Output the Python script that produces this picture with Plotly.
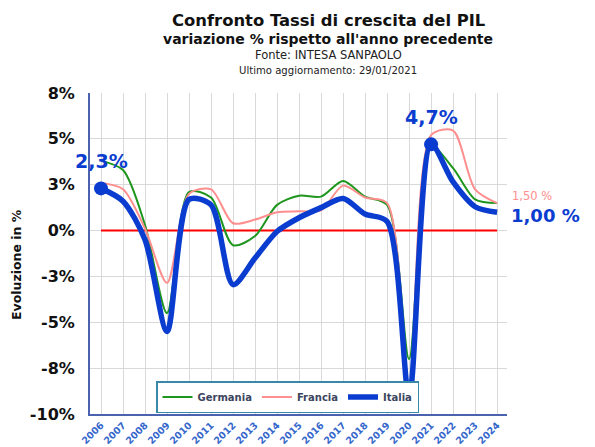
import plotly.graph_objects as go

years = list(range(2006, 2025))
year_labels = [str(y) for y in years]

germania = [3.8, 3.3, 0.3, -4.5, 2.1, 1.8, -0.8, -0.3, 1.4, 1.9, 1.85, 2.7, 1.85, 1.4, -7.0, 4.6, 3.4, 1.7, 1.5]
francia = [2.6, 2.25, 0.1, -2.85, 2.0, 2.25, 0.4, 0.6, 1.0, 1.05, 1.1, 2.45, 1.8, 1.5, -8.5, 5.2, 5.45, 2.25, 1.5]
italia = [2.3, 1.6, -0.5, -5.5, 1.7, 1.4, -2.95, -1.5, -0.05, 0.7, 1.25, 1.75, 0.9, 0.5, -9.0, 4.7, 2.65, 1.3, 1.0]

ytick_vals = [-10, -7.5, -5, -2.5, 0, 2.5, 5, 7.5]
ytick_text = ["-10%", "-8%", "-5%", "-3%", "0%", "3%", "5%", "8%"]

highlight_years = [2006, 2021]
highlight_labels = ["2,3%", "4,7%"]
end_labels = {"Francia": "1,50 %", "Italia": "1,00 %"}

FONT = "DejaVu Sans"
BLUE = "#0a3ccf"
GREEN = "#1e961e"
PINK = "#ff8e8e"

# the page body adds an 8px margin; the figure is sized so the page matches 595x447
BODY = 8
W, H = 595 - BODY, 447 - BODY
PL, PR, PT, PB = 90, 507, 93, 414  # plot area in page pixels

fig = go.Figure()

# zero line
fig.add_trace(go.Scatter(x=[years[0], years[-1]], y=[0, 0], mode="lines",
                         line=dict(color="#ff0000", width=2), showlegend=False, hoverinfo="skip"))

fig.add_trace(go.Scatter(x=years, y=germania, name="Germania", mode="lines",
                         line=dict(color=GREEN, width=2, shape="spline", smoothing=0.8)))
fig.add_trace(go.Scatter(x=years, y=francia, name="Francia", mode="lines",
                         line=dict(color=PINK, width=2, shape="spline", smoothing=0.8)))
fig.add_trace(go.Scatter(x=years, y=italia, name="Italia", mode="lines",
                         line=dict(color=BLUE, width=5.5, shape="spline", smoothing=0.8)))

hy = [italia[years.index(y)] for y in highlight_years]
fig.add_trace(go.Scatter(x=highlight_years, y=hy, mode="markers",
                         marker=dict(color=BLUE, size=14), showlegend=False))

annotations = []
for x, yv, t in zip(highlight_years, hy, highlight_labels):
    annotations.append(dict(x=x, y=yv, text=t, showarrow=False, yshift=27,
                            font=dict(family=FONT, size=19, color=BLUE, weight="bold")))

annotations.append(dict(x=years[-1], y=francia[-1], text=end_labels["Francia"], showarrow=False,
                        xanchor="left", xshift=13, yshift=7,
                        font=dict(family=FONT, size=11.5, color=PINK)))
annotations.append(dict(x=years[-1], y=italia[-1], text=end_labels["Italia"], showarrow=False,
                        xanchor="left", xshift=12, yshift=-3,
                        font=dict(family=FONT, size=18, color=BLUE, weight="bold")))


def px_x(px):
    return (px - PL) / float(PR - PL)


def px_y(py):
    return (PB - py) / float(PB - PT)


titles = [
    ("Confronto Tassi di crescita del PIL", 21, 16.4, "bold", "#111111"),
    ("variazione % rispetto all'anno precedente", 39, 14, "bold", "#111111"),
    ("Fonte: INTESA SANPAOLO", 55, 11.5, "normal", "#222222"),
    ("Ultimo aggiornamento: 29/01/2021", 70, 10.1, "normal", "#222222"),
]
for t, y, s, w, c in titles:
    annotations.append(dict(xref="paper", yref="paper", x=px_x(328), y=px_y(y), text=t,
                            showarrow=False, xanchor="center", yanchor="middle",
                            font=dict(family=FONT, size=s, color=c, weight=w)))

annotations.append(dict(xref="paper", yref="paper", x=px_x(16), y=px_y(265),
                        text="Evoluzione in %", textangle=-90, showarrow=False,
                        xanchor="center", yanchor="middle",
                        font=dict(family=FONT, size=12.5, color="#111111", weight="bold")))

fig.update_layout(
    width=W, height=H,
    margin=dict(l=PL - BODY, r=595 - PR, t=PT - BODY, b=447 - PB),
    paper_bgcolor="white", plot_bgcolor="white",
    font=dict(family=FONT),
    annotations=annotations,
    legend=dict(orientation="h", x=px_x(156), y=px_y(381), xanchor="left", yanchor="top",
                bgcolor="white", bordercolor="#3a88a8", borderwidth=1.5,
                font=dict(family=FONT, size=10, color="#3c4560", weight="bold"),
                itemwidth=30, tracegroupgap=0),
    xaxis=dict(range=[2005.5, 2024.45], tickvals=years, ticktext=year_labels, tickangle=-45,
               tickfont=dict(family=FONT, size=9.5, color="#3366cc", weight="bold"),
               showgrid=True, gridcolor="#d9d9d9", gridwidth=1,
               showline=True, linecolor="#4a62b0", linewidth=2, automargin=False,
               ticks="", zeroline=False),
    yaxis=dict(range=[-10, 7.5], tickvals=ytick_vals, ticktext=ytick_text,
               tickfont=dict(family=FONT, size=16, color="#111111", weight="bold"),
               showgrid=True, gridcolor="#d9d9d9", gridwidth=1,
               showline=True, linecolor="#4a62b0", linewidth=2, automargin=False,
               ticks="", ticklabelstandoff=10, zeroline=False),
)

fig.write_html("out.html")
